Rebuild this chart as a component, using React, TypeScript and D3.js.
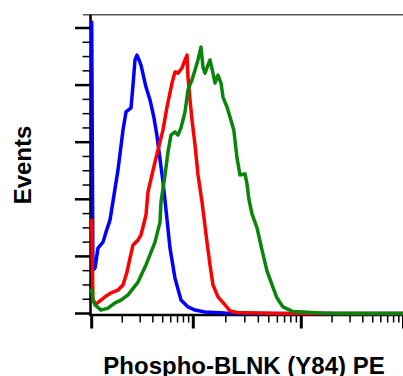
import React from "react";
import * as d3 from "d3";

// Fluorescence intensity (log axis) and event counts (% of max) per histogram
const blueX = [1.0, 1.028, 1.078, 1.153, 1.292, 1.382, 1.514, 1.815, 2.033, 2.176, 2.437, 2.55, 2.668, 2.792, 2.922, 3.056, 3.422, 3.748, 4.104, 4.392, 5.031, 5.386, 5.898, 6.604, 7.566, 8.867, 10.37, 12.83, 19.66, 41.5, 1000];
const blueY = [102.1, 15.2, 15.9, 22.9, 25.0, 28.5, 32.7, 50.3, 64.3, 70.6, 72.0, 80.0, 88.8, 90.5, 88.8, 87.0, 79.3, 74.8, 68.5, 62.2, 46.1, 36.3, 22.9, 12.4, 4.7, 2.3, 1.2, 0.5, 0.2, 0, 0];

const redX = [1.0, 1.028, 1.102, 1.234, 1.382, 1.549, 1.815, 2.033, 2.226, 2.382, 2.55, 2.856, 3.056, 3.422, 3.582, 4.198, 4.701, 5.031, 5.509, 6.171, 6.604, 7.07, 7.741, 8.286, 8.67, 8.867, 9.279, 9.71, 10.37, 11.05, 12.04, 12.56, 13.39, 14.28, 15.22, 16.93, 19.66, 21.87, 25.39, 63.5, 1000];
const redY = [32.7, 4.7, 3.3, 4.7, 6.1, 7.2, 8.2, 10.0, 14.5, 19.4, 24.0, 25.7, 27.5, 34.5, 42.6, 53.1, 60.1, 64.3, 72.3, 80.7, 84.6, 84.2, 86.0, 88.8, 90.5, 82.8, 74.8, 67.8, 59.1, 48.6, 39.1, 33.5, 25.0, 17.0, 10.0, 5.8, 3.0, 0.9, 0.35, 0, 0];

const greenX = [1.0, 1.03, 1.078, 1.234, 1.447, 1.696, 1.943, 2.277, 2.856, 3.422, 4.198, 4.701, 4.81, 5.267, 5.636, 6.032, 6.604, 7.07, 7.566, 8.286, 8.867, 9.71, 10.37, 11.05, 11.78, 12.3, 12.83, 13.68, 14.28, 15.22, 15.88, 16.93, 18.05, 18.84, 20.51, 21.87, 23.71, 25.39, 27.06, 30.1, 31.42, 32.79, 34.96, 38.9, 43.3, 48.1, 53.6, 59.6, 67.7, 83.8, 103.9, 152.4, 220, 1000];
const greenY = [8.2, 4.7, 3.0, 1.2, 1.9, 3.7, 4.7, 6.5, 11.0, 17.0, 25.0, 32.0, 39.1, 48.5, 56.6, 62.5, 63.6, 62.5, 65.0, 70.6, 78.3, 81.8, 85.3, 88.8, 93.3, 86.3, 84.2, 87.0, 88.8, 84.2, 80.7, 83.5, 80.7, 75.8, 72.3, 68.8, 64.3, 54.5, 48.5, 48.9, 45.4, 39.8, 34.9, 30.0, 22.2, 14.9, 10.0, 5.4, 2.3, 0.7, 0.5, 0.2, 0, 0];

const decades = [1, 10, 100, 1000];
const yMajorTicks = [0, 20, 40, 60, 80, 100];
const yMinorTicks = [5, 10, 15, 25, 30, 35, 45, 50, 55, 65, 70, 75, 85, 90, 95];
const yTop = 104.6;

const xLabel = "Phospho-BLNK (Y84) PE";
const yLabel = "Events";

const series = [
  { name: "isotype", xs: blueX, ys: blueY, color: "#0000ff" },
  { name: "untreated", xs: redX, ys: redY, color: "#ff0000" },
  { name: "treated", xs: greenX, ys: greenY, color: "#0a850a" },
];

export default function App() {
  const xScale = d3.scaleLog().domain(decades).range([91.7, 193.3, 301.3, 403.5]);
  const yScale = d3.scaleLinear().domain([0, 100]).range([313.5, 28]);

  const minorX: number[] = [];
  for (let i = 0; i < decades.length - 1; i++) {
    for (let k = 2; k <= 9; k++) minorX.push(decades[i] * k);
  }

  const line = d3
    .line<[number, number]>()
    .x((d) => xScale(d[0]))
    .y((d) => yScale(d[1]));

  const axisY = 315;
  const axisX = 90.5;
  const topY = yScale(yTop);
  const font = "'Liberation Sans', Arial, Helvetica, sans-serif";

  return (
    <svg
      width={403}
      height={376}
      style={{ position: "absolute", left: 0, top: 0, background: "#fff" }}
    >
      {/* top frame */}
      <line x1={83} x2={403} y1={topY} y2={topY} stroke="#555" strokeWidth={1.5} />
      {/* left axis */}
      <line x1={axisX} x2={axisX} y1={topY} y2={axisY + 1} stroke="#000" strokeWidth={2.5} />
      {yMajorTicks.map((t) => (
        <line key={"ym" + t} x1={75} x2={axisX} y1={yScale(t)} y2={yScale(t)} stroke="#000" strokeWidth={2.5} />
      ))}
      {yMinorTicks.map((t) => (
        <line key={"yn" + t} x1={82.5} x2={axisX} y1={yScale(t)} y2={yScale(t)} stroke="#000" strokeWidth={1.5} />
      ))}
      {/* bottom axis */}
      <line x1={axisX - 1} x2={403} y1={axisY} y2={axisY} stroke="#000" strokeWidth={2.5} />
      {decades.map((t) => (
        <line key={"xm" + t} x1={xScale(t)} x2={xScale(t)} y1={axisY} y2={328.5} stroke="#000" strokeWidth={3} />
      ))}
      {minorX.map((t) => (
        <line key={"xn" + t} x1={xScale(t)} x2={xScale(t)} y1={axisY} y2={322.5} stroke="#000" strokeWidth={1.5} />
      ))}
      {/* histograms */}
      {series.map((s) => (
        <path
          key={s.name}
          d={line(s.xs.map((x, i) => [x, s.ys[i]] as [number, number])) || ""}
          fill="none"
          stroke={s.color}
          strokeWidth={3.5}
          strokeLinejoin="round"
          strokeLinecap="round"
        />
      ))}
      {/* labels */}
      <text
        x={244}
        y={373.5}
        textAnchor="middle"
        fontFamily={font}
        fontWeight="bold"
        fontSize={24}
        fill="#000"
      >
        {xLabel}
      </text>
      <text
        transform="translate(31,165) rotate(-90)"
        textAnchor="middle"
        fontFamily={font}
        fontWeight="bold"
        fontSize={24}
        fill="#000"
      >
        {yLabel}
      </text>
    </svg>
  );
}
